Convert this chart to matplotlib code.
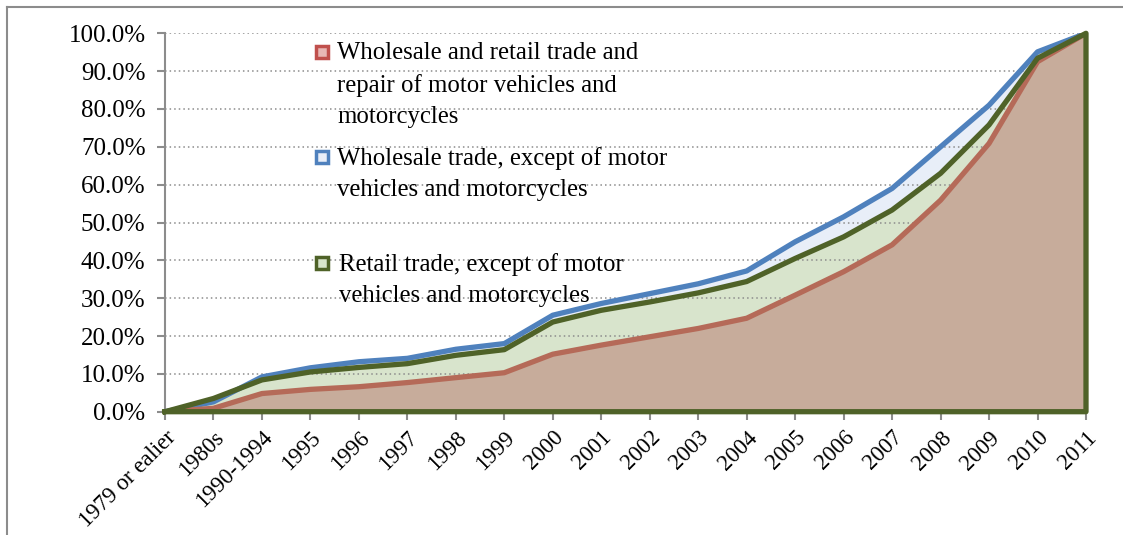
import matplotlib
matplotlib.use('Agg')
import matplotlib.pyplot as plt
from matplotlib.lines import Line2D
from matplotlib.ticker import FuncFormatter

plt.rcParams['font.family'] = ['Liberation Serif', 'DejaVu Serif']

categories = ['1979 or ealier', '1980s', '1990-1994', '1995', '1996', '1997', '1998',
              '1999', '2000', '2001', '2002', '2003', '2004', '2005', '2006', '2007',
              '2008', '2009', '2010', '2011']

# cumulative shares (%)
wholesale_retail = [0.0, 0.9, 4.8, 5.9, 6.6, 7.7, 9.0, 10.3, 15.2, 17.6, 19.8, 22.0,
                    24.7, 30.8, 37.0, 44.1, 55.9, 70.9, 92.5, 100.0]
wholesale = [0.0, 2.6, 9.2, 11.6, 13.2, 14.1, 16.5, 18.0, 25.5, 28.6, 31.2, 33.8,
             37.2, 44.9, 51.5, 59.0, 70.0, 81.0, 95.1, 100.0]
retail = [0.0, 3.5, 8.4, 10.5, 11.7, 12.7, 14.9, 16.4, 23.7, 26.8, 29.0, 31.4,
          34.4, 40.5, 46.2, 53.3, 63.0, 75.8, 93.4, 100.0]

legend_labels = ['Wholesale and retail trade and\nrepair of motor vehicles and\nmotorcycles',
                 'Wholesale trade, except of motor\nvehicles and motorcycles',
                 'Retail trade, except of motor\nvehicles and motorcycles']

W, H = 1123, 535
fig = plt.figure(figsize=(W / 100, H / 100), dpi=100)
ax = fig.add_axes([165 / W, 1 - 411.7 / H, (1086 - 165) / W, (411.7 - 33.3) / H])

x = list(range(len(categories)))

blue_line = '#4F81BD'
green_line = '#4F6228'
red_line = '#B56A58'

ax.fill_between(x, wholesale, 0, color='#E8EEF8', lw=0, zorder=1)
ax.fill_between(x, retail, 0, color='#D8E4CC', lw=0, zorder=2)
ax.fill_between(x, wholesale_retail, 0, color='#C7AC9B', lw=0, zorder=3)

ax.yaxis.grid(True, linestyle=(0, (1, 2)), color='#8c8c8c', lw=1.1, zorder=4)
ax.set_axisbelow(False)

ax.plot(x, wholesale, color=blue_line, lw=3.8, zorder=5)
ax.plot(x, wholesale_retail, color=red_line, lw=3.8, zorder=6)
# green series drawn as outlined area
gx = x + [x[-1], x[0]]
gy = retail + [0, 0]
ax.plot(gx, gy, color=green_line, lw=3.8, zorder=7, clip_on=False)

ax.set_xlim(0, len(categories) - 1)
ax.set_ylim(0, 100)
ax.set_yticks(range(0, 101, 10))
ax.yaxis.set_major_formatter(FuncFormatter(lambda v, p: f'{v:.1f}%'))
ax.set_xticks(x)
ax.set_xticklabels(categories, rotation=45, ha='right', rotation_mode='anchor')
ax.tick_params(axis='both', colors='#8c8c8c', labelcolor='black', labelsize=18,
               length=6, width=1.5)
ax.tick_params(axis='y', pad=8)
ax.tick_params(axis='x', labelsize=16.5, pad=5)
for s in ['top', 'right']:
    ax.spines[s].set_visible(False)
for s in ['left', 'bottom']:
    ax.spines[s].set_color('#8c8c8c')
    ax.spines[s].set_linewidth(1.5)

# legend placed by hand
entries = [('#E8B8B6', '#C0504D', 52, 337),
           ('#E8EEF8', '#4F81BD', 157, 337),
           ('#D8E4CC', '#4F6228', 263, 339)]
for (face, edge, ypix, xtext), label in zip(entries, legend_labels):
    fig.add_artist(Line2D([322 / W], [1 - ypix / H], marker='s', markersize=9,
                          markerfacecolor=face, markeredgecolor=edge, mew=2.5,
                          transform=fig.transFigure))
    fig.text(xtext / W, 1 - (ypix - 10) / H, label, fontsize=17.8, va='top', ha='left',
             linespacing=1.55)

# outer chart border
fig.add_artist(Line2D([7 / W, 1.0], [1 - 7 / H, 1 - 7 / H], color='#8c8c8c', lw=1.5,
                      transform=fig.transFigure))
fig.add_artist(Line2D([7 / W, 7 / W], [0, 1 - 7 / H], color='#8c8c8c', lw=1.5,
                      transform=fig.transFigure))

fig.savefig('out.png', dpi=100)
